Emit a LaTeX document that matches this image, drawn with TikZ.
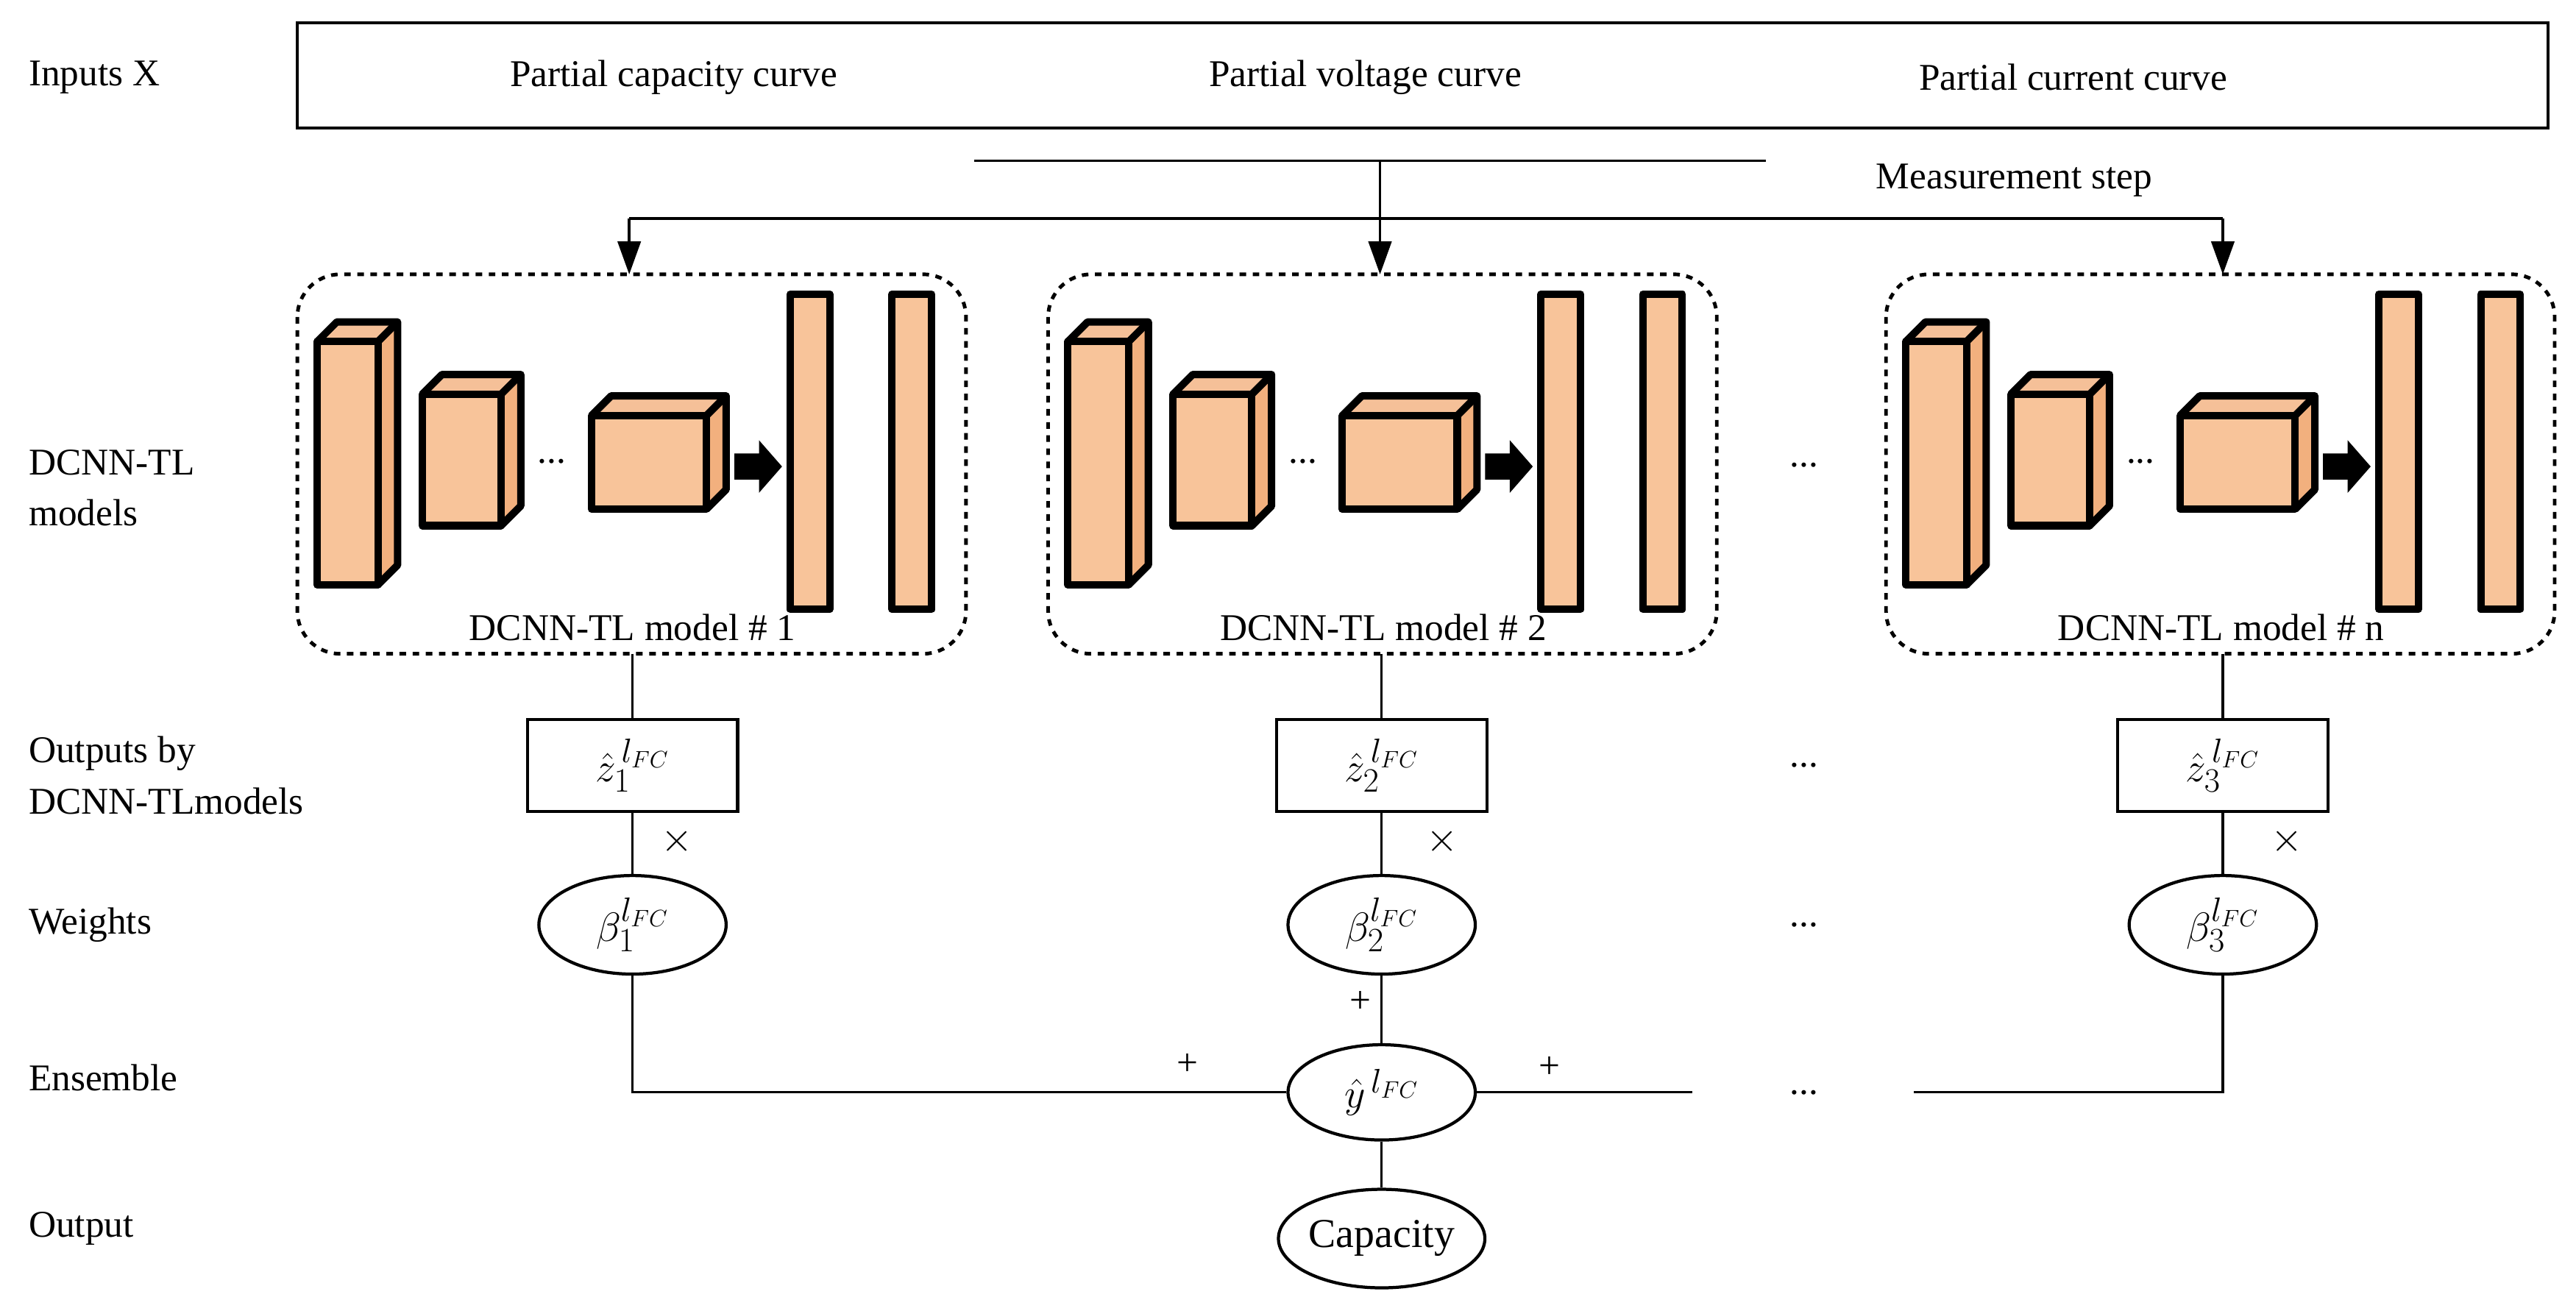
\documentclass[tikz,border=0pt]{standalone}
\usepackage{fontspec}
\setmainfont{Liberation Serif}
\usetikzlibrary{arrows.meta,positioning,shapes.geometric}
\definecolor{peach}{HTML}{F8C49A}
\definecolor{peachdark}{HTML}{F2B07E}
\tikzstyle{txt}=[
	anchor=west,
	align=left,
	font=\fontsize{23}{31}\selectfont
]
\tikzstyle{layer}=[
	line width=4.5pt,
	line join=round,
	draw=black,
	fill=peach
]
\tikzstyle{model}=[
	draw,
	line width=2.2pt,
	dash pattern=on 4pt off 4pt,
	rounded corners=26pt
]
\tikzstyle{wire}=[
	line width=1.5pt
]
\tikzstyle{feed}=[
	wire,
	-{Triangle[length=20pt,width=14pt]}
]
\tikzstyle{value}=[
	draw,
	line width=1.9pt,
	minimum width=128pt,
	minimum height=56pt,
	font=\fontsize{30}{34}\selectfont
]
\tikzstyle{weight}=[
	ellipse,
	draw,
	line width=1.9pt,
	minimum width=114pt,
	minimum height=60pt,
	inner sep=0pt,
	font=\fontsize{30}{34}\selectfont
]
% cuboid: front left x, top y, width, bottom y
\newcommand{\cuboid}[4]{
	\fill[peachdark] (#1+#3,#2) -- ++(12,-12) -- (#1+#3+12,#4-12) -- (#1+#3,#4) -- cycle;
	\fill[peachdark!80] (#1,#2) -- ++(12,-12) -- (#1+#3+12,#2-12) -- (#1+#3,#2) -- cycle;
	\draw[layer] (#1,#2) rectangle (#1+#3,#4);
	\draw[layer,fill=none] (#1,#2) -- ++(12,-12) -- (#1+#3+12,#2-12) -- (#1+#3+12,#4-12) -- (#1+#3,#4);
	\draw[layer,fill=none] (#1+#3,#2) -- ++(12,-12);
}

\begin{document}
\begin{tikzpicture}[x=1pt,y=-1pt]
\useasboundingbox (0,0) rectangle (1568,798);

% row labels
\node [txt] (lInputs) at (14,47) {Inputs X};
\node [txt] (lModels) at (14,297) {DCNN-TL\\models};
\node [txt] (lOutputs) at (14,472) {Outputs by\\DCNN-TLmodels};
\node [txt] (lWeights) at (14,563) {Weights};
\node [txt] (lEnsemble) at (14,656) {Ensemble};
\node [txt] (lOutput) at (14,748) {Output};

% inputs
\node [draw, line width=1.9pt, minimum width=1370pt, minimum height=64pt] (inputs) at (866,46) {};
\node [txt, anchor=center] at (410,47) {Partial capacity curve};
\node [txt, anchor=center] at (831,47) {Partial voltage curve};
\node [txt, anchor=center] at (1262,47) {Partial current curve};
\draw [wire] (593,98) -- (1075,98);
\node [txt, anchor=center] (step) at (1226,110) {Measurement step};
\coordinate (split1) at (383,133);
\coordinate (split2) at (840,133);
\coordinate (split3) at (1353,133);
\draw [wire] (split1) -- (split3);
\draw [wire] (840,98) -- (split2);

% models
\foreach \dx/\n in {0/1, 457/2, 967/n} {
	\begin{scope}[xshift=\dx]
	\draw [model] (181,167) rectangle (588,398);
	\cuboid{193}{208}{37}{356}
	\cuboid{257}{240}{48}{320}
	\node [txt, anchor=center] at (336,281) {...};
	\cuboid{360}{253}{70}{310}
	\fill (447,276) -- (462,276) -- (462,268) -- (476,284) -- (462,300) -- (462,292) -- (447,292) -- cycle;
	\draw [layer] (481,179) rectangle (505,371);
	\draw [layer] (543,179) rectangle (567,371);
	\node [txt, anchor=center] at (385,382) {DCNN-TL model \# \n};
	\end{scope}
}
\coordinate (top1) at (383,167);
\coordinate (top2) at (840,167);
\coordinate (top3) at (1353,167);
\foreach \i in {1,2,3} \draw [feed] (split\i) -- (top\i);
\node [txt, anchor=center] at (1098,283) {...};

% outputs and weights
\node [value] (z1) at (385,466) {$\hat{z}_1^{\,l_{FC}}$};
\node [value] (z2) at (841,466) {$\hat{z}_2^{\,l_{FC}}$};
\node [value] (z3) at (1353,466) {$\hat{z}_3^{\,l_{FC}}$};
\node [weight] (b1) at (385,563) {$\beta_1^{l_{FC}}$};
\node [weight] (b2) at (841,563) {$\beta_2^{l_{FC}}$};
\node [weight] (b3) at (1353,563) {$\beta_3^{l_{FC}}$};
\draw [wire] (385,398) -- (z1);
\draw [wire] (841,398) -- (z2);
\draw [wire] (1353,398) -- (z3);
\foreach \i in {1,2,3} \draw [wire] (z\i) -- (b\i);
\node [txt, anchor=center] at (412,512) {$\times$};
\node [txt, anchor=center] at (878,512) {$\times$};
\node [txt, anchor=center] at (1392,512) {$\times$};
\node [txt, anchor=center] at (1098,466) {...};
\node [txt, anchor=center] at (1098,563) {...};

% ensemble
\node [weight, minimum height=58pt] (yhat) at (841,665) {$\hat{y}^{\,l_{FC}}$};
\node [weight, font=\fontsize{25}{30}\selectfont] (cap) at (841,754) {Capacity};
\coordinate (gapL) at (1030,665);
\coordinate (gapR) at (1165,665);
\draw [wire] (b1) -- (385,665) -- (yhat);
\draw [wire] (b2) -- (yhat);
\draw [wire] (yhat) -- (gapL);
\draw [wire] (b3) -- (1353,665) -- (gapR);
\draw [wire] (yhat) -- (cap);
\node [txt, anchor=center] at (723,648) {+};
\node [txt, anchor=center] at (828,610) {+};
\node [txt, anchor=center] at (943,650) {+};
\node [txt, anchor=center] at (1098,665) {...};
\end{tikzpicture}
\end{document}
